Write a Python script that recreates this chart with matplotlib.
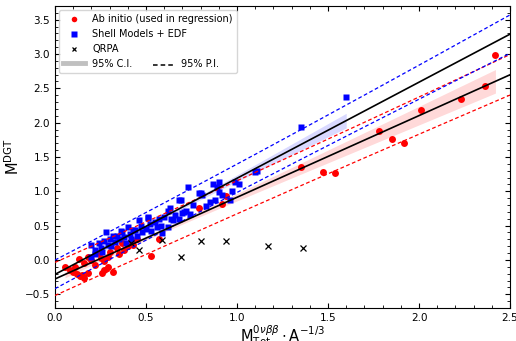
import numpy as np
import matplotlib
matplotlib.use("Agg")
import matplotlib.pyplot as plt
from matplotlib.lines import Line2D
from matplotlib.ticker import MultipleLocator

# ab initio points (used in regression)
abi_x = [0.055, 0.08, 0.10, 0.11, 0.12, 0.13, 0.14, 0.15, 0.16, 0.16, 0.18, 0.18, 0.20, 0.22,
         0.24, 0.25, 0.26, 0.27, 0.27, 0.29, 0.29, 0.30, 0.32, 0.34, 0.35, 0.37, 0.38, 0.40,
         0.42, 0.43, 0.45, 0.53, 0.57, 0.79, 0.92, 0.94, 1.35, 1.47, 1.54, 1.78, 1.85, 1.92,
         2.01, 2.23, 2.36, 2.42]
abi_y = [-0.11, -0.14, -0.17, -0.10, -0.21, 0.02, -0.24, -0.22, -0.27, -0.05, -0.19, 0.05, 0.0, -0.07,
         0.10, 0.03, -0.19, -0.14, -0.02, -0.10, 0.05, 0.12, -0.17, 0.17, 0.08, 0.24, 0.15, 0.20,
         0.27, 0.22, 0.30, 0.06, 0.31, 0.75, 0.82, 0.93, 1.36, 1.28, 1.26, 1.88, 1.76, 1.70,
         2.18, 2.35, 2.53, 2.98]

# shell model + EDF points
sm_x = [0.20, 0.22, 0.24, 0.20, 0.22, 0.25, 0.27, 0.28, 0.26, 0.29, 0.30, 0.31, 0.32, 0.33,
        0.34, 0.35, 0.36, 0.37, 0.38, 0.39, 0.40, 0.41, 0.42, 0.43, 0.44, 0.45, 0.46, 0.47,
        0.48, 0.50, 0.51, 0.51, 0.52, 0.53, 0.55, 0.56, 0.57, 0.58, 0.59, 0.60, 0.62, 0.62,
        0.63, 0.64, 0.65, 0.66, 0.68, 0.68, 0.69, 0.70, 0.71, 0.72, 0.73, 0.74, 0.76, 0.79,
        0.80, 0.81, 0.83, 0.85, 0.87, 0.88, 0.89, 0.90, 0.90, 0.92, 0.96, 0.97, 0.99, 1.01,
        1.10, 1.11, 1.35, 1.60]
sm_y = [0.05, 0.14, 0.24, 0.22, 0.08, 0.18, 0.28, 0.40, 0.12, 0.22, 0.30, 0.20, 0.35, 0.26,
        0.35, 0.30, 0.42, 0.41, 0.33, 0.25, 0.48, 0.38, 0.30, 0.44, 0.43, 0.35, 0.58, 0.50,
        0.40, 0.45, 0.61, 0.63, 0.52, 0.42, 0.55, 0.48, 0.59, 0.50, 0.39, 0.62, 0.48, 0.72,
        0.75, 0.60, 0.58, 0.66, 0.88, 0.60, 0.87, 0.68, 0.70, 0.72, 1.07, 0.67, 0.80, 0.98,
        0.97, 0.94, 0.78, 0.85, 1.11, 0.87, 1.06, 1.14, 0.99, 0.95, 0.87, 1.01, 1.14, 1.11,
        1.28, 1.30, 1.94, 2.37]

# QRPA points
qrpa_x = [0.42, 0.46, 0.59, 0.69, 0.80, 0.94, 1.17, 1.36]
qrpa_y = [0.24, 0.14, 0.29, 0.05, 0.27, 0.27, 0.20, 0.17]

# regression lines: intercept, slope, band parameters
abi_fit = [-0.277, 1.19]
abi_band = {"xm": 0.5, "c0": 0.03, "k": 0.088, "sig": 0.235}
sm_fit = [-0.21, 1.40]
sm_band = {"xm": 0.55, "c0": 0.02, "k": 0.10, "sig": 0.20}


def ci(x, b):
    return np.sqrt(b["c0"] ** 2 + (b["k"] * (x - b["xm"])) ** 2)


def pi(x, b):
    return np.sqrt(b["sig"] ** 2 + ci(x, b) ** 2)


fig = plt.figure(figsize=(5.16, 3.41), dpi=100)
ax = fig.add_axes([0.1066, 0.0968, 0.8818, 0.8856])

xx = np.linspace(0, 2.5, 200)
for fit, band, xs, col in [(abi_fit, abi_band, abi_x, "red"), (sm_fit, sm_band, sm_x, "blue")]:
    yy = fit[0] + fit[1] * xx
    xc = np.linspace(min(xs), max(xs), 200)
    yc = fit[0] + fit[1] * xc
    ax.fill_between(xc, yc - ci(xc, band), yc + ci(xc, band), color=col, alpha=0.15, lw=0, zorder=1)
    ax.plot(xx, yy + pi(xx, band), "--", color=col, lw=0.9, dashes=(3, 2), zorder=4)
    ax.plot(xx, yy - pi(xx, band), "--", color=col, lw=0.9, dashes=(3, 2), zorder=4)

ax.plot(abi_x, abi_y, "o", color="red", ms=5, mec="none", zorder=2)
ax.plot(sm_x, sm_y, "s", color="blue", ms=4.8, mec="none", zorder=2)
ax.plot(qrpa_x, qrpa_y, "x", color="black", ms=4, mew=0.9, zorder=3)

for fit in [abi_fit, sm_fit]:
    ax.plot(xx, fit[0] + fit[1] * xx, "-", color="black", lw=1.2, zorder=5)

ax.set_xlim(0, 2.5)
ax.set_ylim(-0.7, 3.7)
ax.xaxis.set_major_locator(MultipleLocator(0.5))
ax.xaxis.set_minor_locator(MultipleLocator(0.1))
ax.yaxis.set_major_locator(MultipleLocator(0.5))
ax.yaxis.set_minor_locator(MultipleLocator(0.1))
ax.tick_params(which="both", direction="in", top=True, right=True, labelsize=7.5)
ax.tick_params(which="major", length=3.5)
ax.tick_params(which="minor", length=2)

ax.set_xlabel(r"$\mathrm{M}^{0\nu\beta\beta}_{\mathrm{Tot}}\cdot\mathrm{A}^{-1/3}$", fontsize=10.5, labelpad=0)
ax.set_ylabel(r"$\mathrm{M}^{\mathrm{DGT}}$", fontsize=10.5, labelpad=2)

handles = [Line2D([], [], marker="o", color="red", ls="none", ms=4, mec="none"),
           Line2D([], [], marker="s", color="blue", ls="none", ms=4, mec="none"),
           Line2D([], [], marker="x", color="black", ls="none", ms=3.5, mew=0.9),
           Line2D([], [], color="silver", lw=3.5)]
labels = ["Ab initio (used in regression)", "Shell Models + EDF", "QRPA", "95% C.I."]
leg = ax.legend(handles, labels, loc="upper left", fontsize=7, handlelength=2.2,
                borderaxespad=0.45, labelspacing=0.5, fancybox=True)

# second item on the last legend row (P.I.), placed next to the C.I. label
fig.canvas.draw()
bb = leg.get_texts()[3].get_window_extent()
inv = ax.transAxes.inverted()
x0 = bb.x1 + 20
ymid = (bb.y0 + bb.y1) / 2 - 1
p0 = inv.transform((x0, ymid))
p1 = inv.transform((x0 + 22, ymid))
ax.plot([p0[0], p1[0]], [p0[1], p1[1]], "--", color="black", lw=1.1, dashes=(3, 2),
        transform=ax.transAxes, clip_on=False, zorder=7)
pt = inv.transform((x0 + 28, (bb.y0 + bb.y1) / 2))
ax.text(pt[0], pt[1], "95% P.I.", fontsize=7, va="center", ha="left",
        transform=ax.transAxes, zorder=7)

fig.savefig("out.png", dpi=100)
